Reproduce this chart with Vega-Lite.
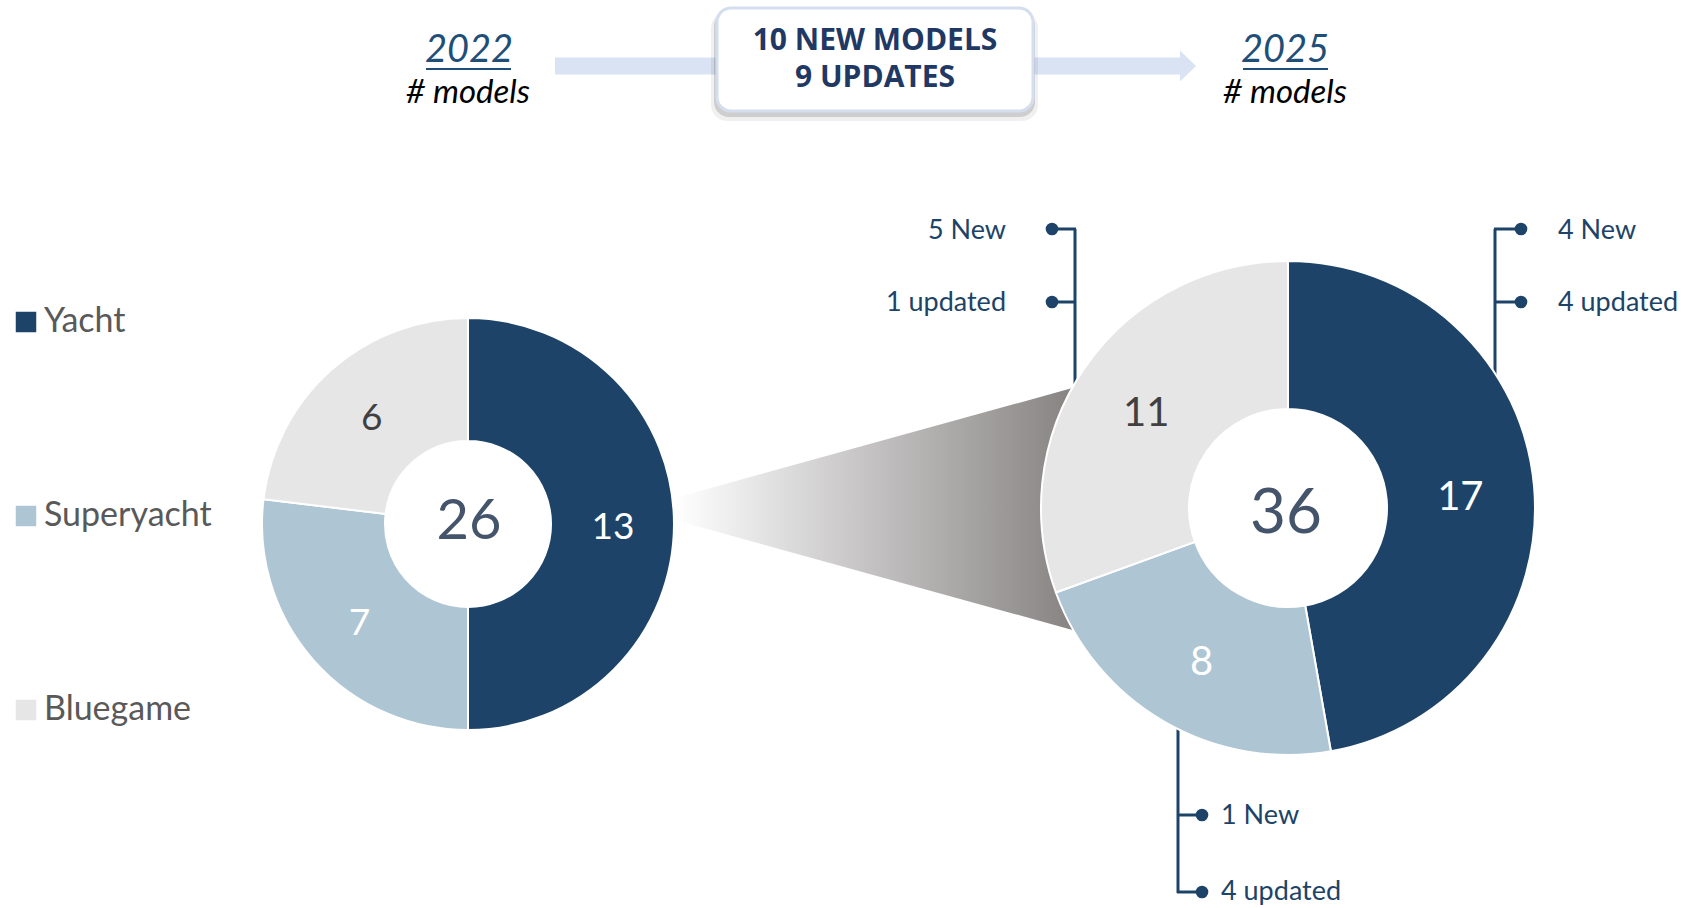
{
  "$schema": "https://vega.github.io/schema/vega-lite/v6.json",
  "width": 1683,
  "height": 908,
  "padding": 0,
  "autosize": {"type": "none"},
  "background": "#ffffff",
  "config": {
    "view": {"stroke": null},
    "axis": {"disable": true},
    "font": "Lato",
    "text": {"font": "Lato"}
  },
  "datasets": {
    "models": [
      {"year": "2022", "segment": "Yacht", "count": 13},
      {"year": "2022", "segment": "Superyacht", "count": 7},
      {"year": "2022", "segment": "Bluegame", "count": 6},
      {"year": "2025", "segment": "Yacht", "count": 17},
      {"year": "2025", "segment": "Superyacht", "count": 8},
      {"year": "2025", "segment": "Bluegame", "count": 11}
    ]
  },
  "data": {"values": [{}]},
  "resolve": {"scale": {"theta": "independent"}},
  "layer": [
    {
      "mark": {"type": "point", "shape": "M-1,-0.054L1,-0.607L1,0.607L-1,0.054Z", "size": 164025, "filled": true, "opacity": 1, "strokeWidth": 0,
        "fill": {"gradient": "linear", "x1": 0, "y1": 0, "x2": 1, "y2": 0, "stops": [{"offset": 0, "color": "#ffffff"}, {"offset": 1, "color": "#858181"}]}},
      "encoding": {
        "x": {"datum": 877, "scale": {"domain": [0, 1683], "nice": false, "zero": false}},
        "y": {"datum": 509, "scale": {"domain": [0, 908], "nice": false, "zero": false, "reverse": true}}
      }
    },
    {"mark": {"type": "rule", "stroke": "#1D4468", "strokeWidth": 3}, "encoding": {"x": {"datum": 1075}, "y": {"datum": 229}, "y2": {"datum": 390}}},
    {"mark": {"type": "rule", "stroke": "#1D4468", "strokeWidth": 3}, "encoding": {"x": {"datum": 1495}, "y": {"datum": 229}, "y2": {"datum": 385}}},
    {"mark": {"type": "rule", "stroke": "#1D4468", "strokeWidth": 3}, "encoding": {"x": {"datum": 1178}, "y": {"datum": 720}, "y2": {"datum": 893}}},
    {"mark": {"type": "rule", "stroke": "#1D4468", "strokeWidth": 3}, "encoding": {"x": {"datum": 1052}, "x2": {"datum": 1076}, "y": {"datum": 229}}},
    {"mark": {"type": "rule", "stroke": "#1D4468", "strokeWidth": 3}, "encoding": {"x": {"datum": 1052}, "x2": {"datum": 1076}, "y": {"datum": 302}}},
    {"mark": {"type": "rule", "stroke": "#1D4468", "strokeWidth": 3}, "encoding": {"x": {"datum": 1494}, "x2": {"datum": 1521}, "y": {"datum": 229}}},
    {"mark": {"type": "rule", "stroke": "#1D4468", "strokeWidth": 3}, "encoding": {"x": {"datum": 1494}, "x2": {"datum": 1521}, "y": {"datum": 302}}},
    {"mark": {"type": "rule", "stroke": "#1D4468", "strokeWidth": 3}, "encoding": {"x": {"datum": 1177}, "x2": {"datum": 1202}, "y": {"datum": 815}}},
    {"mark": {"type": "rule", "stroke": "#1D4468", "strokeWidth": 3}, "encoding": {"x": {"datum": 1177}, "x2": {"datum": 1202}, "y": {"datum": 892}}},
    {"mark": {"type": "circle", "color": "#1D4468", "size": 160, "opacity": 1}, "encoding": {"x": {"datum": 1052}, "y": {"datum": 229}}},
    {"mark": {"type": "circle", "color": "#1D4468", "size": 160, "opacity": 1}, "encoding": {"x": {"datum": 1052}, "y": {"datum": 302}}},
    {"mark": {"type": "circle", "color": "#1D4468", "size": 160, "opacity": 1}, "encoding": {"x": {"datum": 1521}, "y": {"datum": 229}}},
    {"mark": {"type": "circle", "color": "#1D4468", "size": 160, "opacity": 1}, "encoding": {"x": {"datum": 1521}, "y": {"datum": 302}}},
    {"mark": {"type": "circle", "color": "#1D4468", "size": 160, "opacity": 1}, "encoding": {"x": {"datum": 1202}, "y": {"datum": 815}}},
    {"mark": {"type": "circle", "color": "#1D4468", "size": 160, "opacity": 1}, "encoding": {"x": {"datum": 1202}, "y": {"datum": 892}}},
    {"mark": {"type": "text", "text": "5 New", "align": "right", "baseline": "middle", "fontSize": 27, "color": "#1D4468"}, "encoding": {"x": {"datum": 1006}, "y": {"datum": 231}}},
    {"mark": {"type": "text", "text": "1 updated", "align": "right", "baseline": "middle", "fontSize": 27, "color": "#1D4468"}, "encoding": {"x": {"datum": 1006}, "y": {"datum": 303}}},
    {"mark": {"type": "text", "text": "4 New", "align": "left", "baseline": "middle", "fontSize": 27, "color": "#1D4468"}, "encoding": {"x": {"datum": 1558}, "y": {"datum": 231}}},
    {"mark": {"type": "text", "text": "4 updated", "align": "left", "baseline": "middle", "fontSize": 27, "color": "#1D4468"}, "encoding": {"x": {"datum": 1558}, "y": {"datum": 303}}},
    {"mark": {"type": "text", "text": "1 New", "align": "left", "baseline": "middle", "fontSize": 27, "color": "#1D4468"}, "encoding": {"x": {"datum": 1221}, "y": {"datum": 816}}},
    {"mark": {"type": "text", "text": "4 updated", "align": "left", "baseline": "middle", "fontSize": 27, "color": "#1D4468"}, "encoding": {"x": {"datum": 1221}, "y": {"datum": 892}}},
    {
      "data": {"name": "models"},
      "transform": [{"filter": "datum.year == '2022'"}, {"calculate": "indexof(['Yacht','Superyacht','Bluegame'], datum.segment)", "as": "rank"}],
      "mark": {"type": "arc", "radius": 206, "radius2": 83, "stroke": "#ffffff", "strokeWidth": 2},
      "encoding": {
        "x": {"datum": 468}, "y": {"datum": 524},
        "theta": {"field": "count", "type": "quantitative", "stack": true},
        "order": {"field": "rank", "type": "quantitative"},
        "color": {"field": "segment", "type": "nominal",
          "scale": {"domain": ["Yacht", "Superyacht", "Bluegame"], "range": ["#1D4468", "#AEC5D4", "#E6E6E6"]},
          "legend": {"title": null, "orient": "none", "legendX": 9, "legendY": 305, "direction": "vertical", "symbolType": "square", "symbolSize": 420, "symbolStrokeWidth": 0, "symbolOpacity": 1, "labelFontSize": 34, "labelFont": "Lato", "labelColor": "#595959", "labelOffset": 1, "labelLimit": 400, "rowPadding": 160, "padding": 0}}
      }
    },
    {
      "data": {"name": "models"},
      "transform": [{"filter": "datum.year == '2025'"}, {"calculate": "indexof(['Yacht','Superyacht','Bluegame'], datum.segment)", "as": "rank"}],
      "mark": {"type": "arc", "radius": 247, "radius2": 99, "stroke": "#ffffff", "strokeWidth": 2},
      "encoding": {
        "x": {"datum": 1288}, "y": {"datum": 508},
        "theta": {"field": "count", "type": "quantitative", "stack": true},
        "order": {"field": "rank", "type": "quantitative"},
        "color": {"field": "segment", "type": "nominal"}
      }
    },
    {
      "data": {"name": "models"},
      "transform": [{"filter": "datum.year == '2022'"}, {"calculate": "indexof(['Yacht','Superyacht','Bluegame'], datum.segment)", "as": "rank"}],
      "mark": {"type": "text", "radius": 145, "fontSize": 37, "align": "center", "baseline": "middle", "dy": 4},
      "encoding": {
        "x": {"datum": 468}, "y": {"datum": 524},
        "theta": {"field": "count", "type": "quantitative", "stack": true},
        "order": {"field": "rank", "type": "quantitative"},
        "detail": {"field": "segment"},
        "text": {"field": "count", "type": "quantitative"},
        "color": {"condition": {"test": "datum.segment === 'Bluegame'", "value": "#404040"}, "value": "#ffffff"}
      }
    },
    {
      "data": {"name": "models"},
      "transform": [{"filter": "datum.year == '2025'"}, {"calculate": "indexof(['Yacht','Superyacht','Bluegame'], datum.segment)", "as": "rank"}],
      "mark": {"type": "text", "radius": 173, "fontSize": 40, "align": "center", "baseline": "middle", "dy": 5},
      "encoding": {
        "x": {"datum": 1288}, "y": {"datum": 508},
        "theta": {"field": "count", "type": "quantitative", "stack": true},
        "order": {"field": "rank", "type": "quantitative"},
        "detail": {"field": "segment"},
        "text": {"field": "count", "type": "quantitative"},
        "color": {"condition": {"test": "datum.segment === 'Bluegame'", "value": "#404040"}, "value": "#ffffff"}
      }
    },
    {
      "data": {"name": "models"},
      "transform": [{"filter": "datum.year == '2022'"}],
      "mark": {"type": "text", "fontSize": 56, "color": "#44546A", "align": "center", "baseline": "middle"},
      "encoding": {"x": {"datum": 469}, "y": {"datum": 522}, "text": {"aggregate": "sum", "field": "count", "type": "quantitative"}}
    },
    {
      "data": {"name": "models"},
      "transform": [{"filter": "datum.year == '2025'"}],
      "mark": {"type": "text", "fontSize": 62, "color": "#44546A", "align": "center", "baseline": "middle"},
      "encoding": {"x": {"datum": 1286}, "y": {"datum": 514}, "text": {"aggregate": "sum", "field": "count", "type": "quantitative"}}
    },
    {"mark": {"type": "rule", "stroke": "#DAE3F3", "strokeWidth": 17}, "encoding": {"x": {"datum": 555}, "x2": {"datum": 1182}, "y": {"datum": 66}}},
    {"mark": {"type": "point", "shape": "M-0.52,-1L0.52,0L-0.52,1Z", "size": 961, "filled": true, "opacity": 1, "color": "#DAE3F3", "strokeWidth": 0}, "encoding": {"x": {"datum": 1188}, "y": {"datum": 66}}},
    {"mark": {"type": "rect", "color": "#000000", "opacity": 0.06, "cornerRadius": 16}, "encoding": {"x": {"datum": 711}, "x2": {"datum": 1038}, "y": {"datum": 12}, "y2": {"datum": 121}}},
    {"mark": {"type": "rect", "color": "#000000", "opacity": 0.14, "cornerRadius": 15}, "encoding": {"x": {"datum": 714}, "x2": {"datum": 1035}, "y": {"datum": 11}, "y2": {"datum": 117}}},
    {"mark": {"type": "rect", "fill": "#ffffff", "stroke": "#D5DEEE", "strokeWidth": 3, "cornerRadius": 14}, "encoding": {"x": {"datum": 717}, "x2": {"datum": 1033}, "y": {"datum": 8}, "y2": {"datum": 111}}},
    {"mark": {"type": "text", "text": ["10 NEW MODELS", "9 UPDATES"], "lineHeight": 37, "fontSize": 30, "font": "Open Sans", "fontWeight": "bold", "color": "#1F3864", "align": "center", "baseline": "alphabetic"}, "encoding": {"x": {"datum": 875}, "y": {"datum": 50}}},
    {"mark": {"type": "text", "text": "2022", "fontSize": 38, "fontStyle": "italic", "color": "#1F4E79", "align": "center", "baseline": "alphabetic"}, "encoding": {"x": {"datum": 469}, "y": {"datum": 62}}},
    {"mark": {"type": "rule", "stroke": "#1F4E79", "strokeWidth": 2}, "encoding": {"x": {"datum": 426}, "x2": {"datum": 511}, "y": {"datum": 69}}},
    {"mark": {"type": "text", "text": "# models", "fontSize": 33, "fontStyle": "italic", "color": "#000000", "align": "center", "baseline": "alphabetic"}, "encoding": {"x": {"datum": 468}, "y": {"datum": 103}}},
    {"mark": {"type": "text", "text": "2025", "fontSize": 38, "fontStyle": "italic", "color": "#1F4E79", "align": "center", "baseline": "alphabetic"}, "encoding": {"x": {"datum": 1285}, "y": {"datum": 62}}},
    {"mark": {"type": "rule", "stroke": "#1F4E79", "strokeWidth": 2}, "encoding": {"x": {"datum": 1243}, "x2": {"datum": 1328}, "y": {"datum": 69}}},
    {"mark": {"type": "text", "text": "# models", "fontSize": 33, "fontStyle": "italic", "color": "#000000", "align": "center", "baseline": "alphabetic"}, "encoding": {"x": {"datum": 1285}, "y": {"datum": 103}}}
  ]
}
